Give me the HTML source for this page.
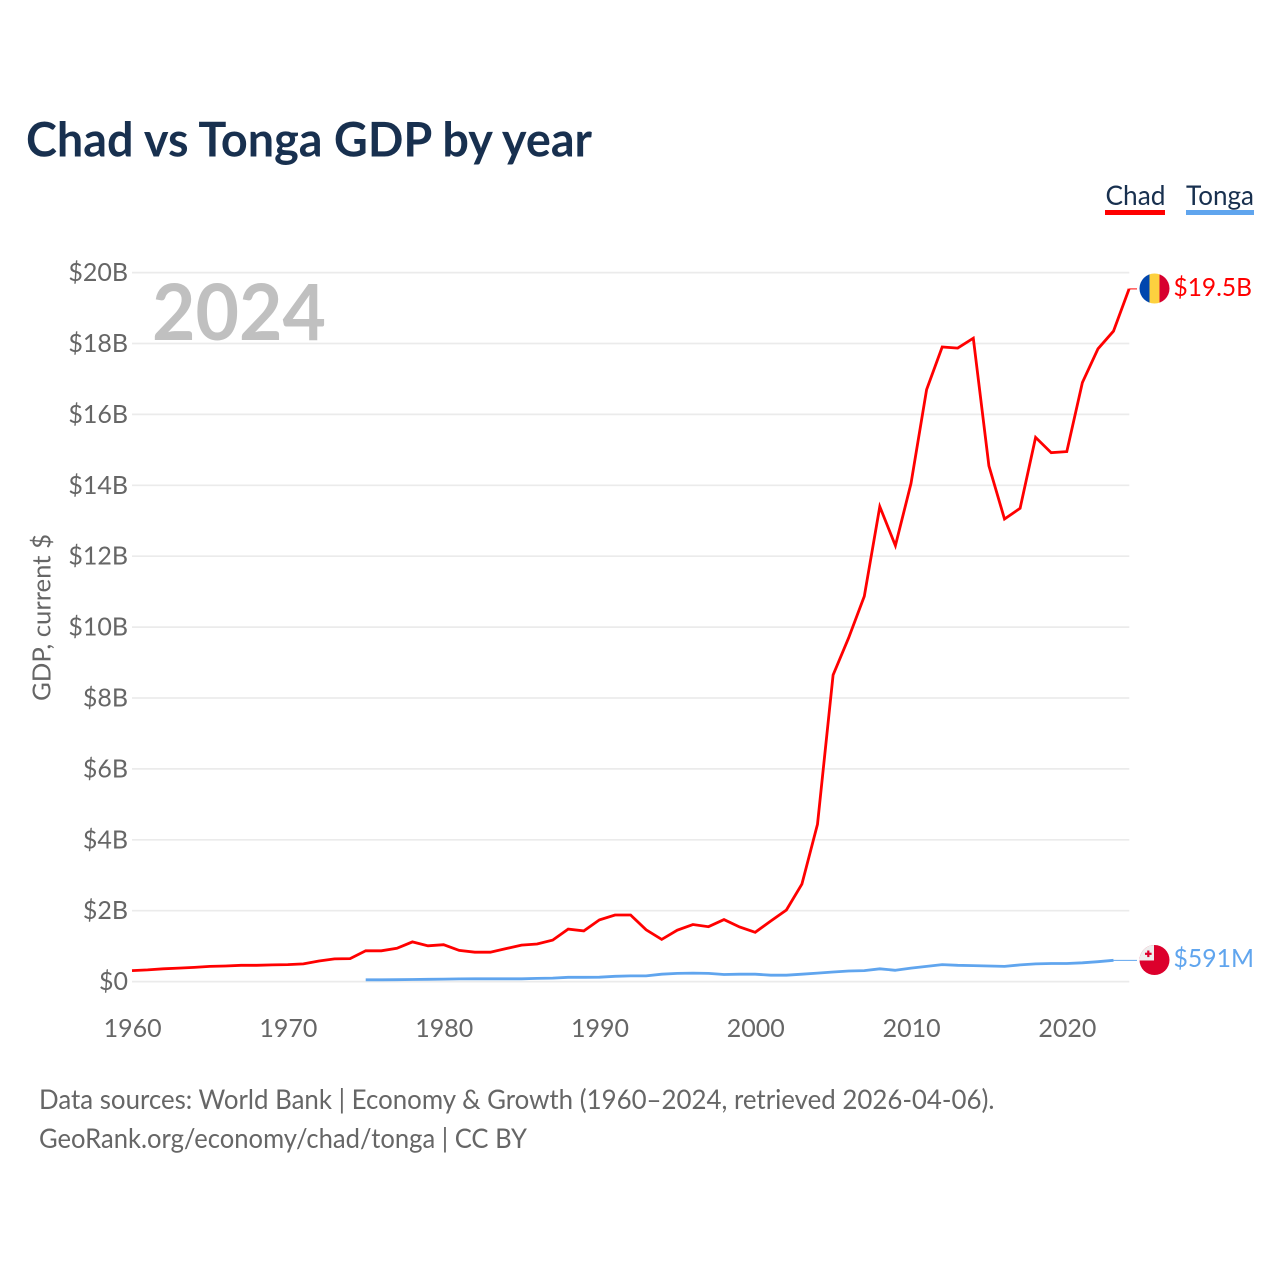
<!DOCTYPE html>
<html lang="en">
<head>
<meta charset="utf-8">
<title>Chad vs Tonga GDP by year</title>
<style>
  html, body { margin: 0; padding: 0; background: #fff; }
  body { width: 1280px; height: 1280px; overflow: hidden; }
  svg { display: block; }
  text { font-family: "Lato", "Carlito", "Liberation Sans", sans-serif; }
</style>
</head>
<body>
<svg id="chart" xmlns="http://www.w3.org/2000/svg" width="1280" height="1280" viewBox="0 0 1280 1280">
  <rect x="0" y="0" width="1280" height="1280" fill="#ffffff"/>
  <text x="26" y="156.5" font-size="48" font-weight="700" fill="#18304f" textLength="566" lengthAdjust="spacingAndGlyphs">Chad vs Tonga GDP by year</text>

  <g id="grid"></g>
  <text x="152" y="340" font-size="78" font-weight="700" fill="#c0c0c0" textLength="174" lengthAdjust="spacingAndGlyphs">2024</text>
  <g id="y-ticks"></g>
  <g id="x-ticks"></g>
  <text transform="translate(50.5,701) rotate(-90)" font-size="25" fill="#666666" textLength="167" lengthAdjust="spacingAndGlyphs">GDP, current $</text>

  <g id="series"></g>

  <g>
    <text x="1105.5" y="205" font-size="27" fill="#18304f" textLength="60" lengthAdjust="spacingAndGlyphs">Chad</text>
    <rect x="1105" y="210" width="60" height="5" fill="#ff0000"/>
  </g>
  <g>
    <text x="1186" y="205" font-size="27" fill="#18304f" textLength="68" lengthAdjust="spacingAndGlyphs">Tonga</text>
    <rect x="1186" y="210" width="68" height="5" fill="#60a5ee"/>
  </g>

  <defs>
    <clipPath id="clip-chad"><circle cx="1154.5" cy="288.5" r="15"/></clipPath>
    <clipPath id="clip-tonga"><circle cx="1154.5" cy="960" r="15"/></clipPath>
  </defs>
  <g clip-path="url(#clip-chad)">
    <rect x="1139" y="273" width="10.5" height="31" fill="#0046ae"/>
    <rect x="1149.5" y="273" width="10" height="31" fill="#fdd13f"/>
    <rect x="1159.5" y="273" width="11" height="31" fill="#d7002f"/>
  </g>
  <g clip-path="url(#clip-tonga)">
    <rect x="1139" y="945" width="31" height="31" fill="#dc002c"/>
    <rect x="1139" y="945" width="15" height="15.5" fill="#eeeeee"/>
    <rect x="1145" y="952.7" width="6.6" height="2.2" fill="#dc002c"/>
    <rect x="1147.2" y="950.5" width="2.2" height="6.6" fill="#dc002c"/>
  </g>
  <text x="1173.5" y="296" font-size="25" fill="#ff0000" textLength="78.5" lengthAdjust="spacingAndGlyphs">$19.5B</text>
  <text x="1173.5" y="967" font-size="25" fill="#60a5ee" textLength="80.5" lengthAdjust="spacingAndGlyphs">$591M</text>

  <text x="39" y="1109" font-size="27" fill="#666666" textLength="955.5" lengthAdjust="spacingAndGlyphs">Data sources: World Bank | Economy &amp; Growth (1960–2024, retrieved 2026-04-06).</text>
  <text x="39" y="1148" font-size="27" fill="#666666" textLength="488" lengthAdjust="spacingAndGlyphs">GeoRank.org/economy/chad/tonga | CC BY</text>
</svg>
<script>
const chadStartYear = 1960;
const tongaStartYear = 1975;
const chadValues = [0.31,0.33,0.36,0.38,0.40,0.43,0.44,0.46,0.46,0.47,0.48,0.50,0.58,0.64,0.65,0.87,0.87,0.94,1.12,1.01,1.04,0.88,0.83,0.83,0.93,1.03,1.06,1.17,1.48,1.43,1.74,1.88,1.88,1.46,1.19,1.45,1.61,1.55,1.75,1.54,1.39,1.71,2.02,2.75,4.44,8.65,9.70,10.87,13.40,12.30,14.05,16.70,17.90,17.87,18.15,14.55,13.05,13.35,15.35,14.92,14.95,16.90,17.85,18.35,19.54];
const tongaValues = [0.05,0.05,0.055,0.06,0.065,0.07,0.075,0.08,0.08,0.08,0.08,0.09,0.10,0.12,0.12,0.125,0.15,0.16,0.16,0.21,0.23,0.24,0.23,0.20,0.21,0.21,0.18,0.18,0.21,0.24,0.27,0.30,0.31,0.36,0.32,0.38,0.43,0.48,0.46,0.45,0.44,0.43,0.47,0.50,0.51,0.51,0.53,0.56,0.60];
const yTickValues = [0,2,4,6,8,10,12,14,16,18,20];
const yTickLabels = ["$0","$2B","$4B","$6B","$8B","$10B","$12B","$14B","$16B","$18B","$20B"];
const xTickYears = [1960,1970,1980,1990,2000,2010,2020];

const NS = "http://www.w3.org/2000/svg";
function xScale(year) { return 132 + (year - 1960) * 15.58; }
function yScale(v) { return 981.6 - v * 35.45; }
function make(tag, attrs, parent) {
  const el = document.createElementNS(NS, tag);
  for (const k in attrs) el.setAttribute(k, attrs[k]);
  parent.appendChild(el);
  return el;
}
const gridG = document.getElementById("grid");
const yG = document.getElementById("y-ticks");
const xG = document.getElementById("x-ticks");
const seriesG = document.getElementById("series");

yTickValues.forEach(function (v, i) {
  const line = make("line", {x1: 132, x2: 1129.3, y1: yScale(v), y2: yScale(v), stroke: "#ebebeb", "stroke-width": 1.7}, gridG);
  
  
  const t = make("text", {x: 128, y: yScale(v) + 8.5, "text-anchor": "end", "font-size": 25, fill: "#666666"}, yG);
  
  
  t.textContent = yTickLabels[i];
});

xTickYears.forEach(function (yr) {
  const t = make("text", {x: xScale(yr) + 0.6, y: 1036.8, "text-anchor": "middle", "font-size": 25, fill: "#666666"}, xG);
  
  
  t.textContent = yr;
});

function points(values, startYear) {
  return values.map(function (v, i) {
    return xScale(startYear + i).toFixed(1) + "," + yScale(v).toFixed(1);
  }).join(" ");
}

const tongaLine = make("polyline", {points: points(tongaValues, tongaStartYear), fill: "none", stroke: "#60a5ee", "stroke-width": 2.8, "stroke-linejoin": "round"}, seriesG);



const chadLine = make("polyline", {points: points(chadValues, chadStartYear), fill: "none", stroke: "#ff0000", "stroke-width": 2.8, "stroke-linejoin": "miter"}, seriesG);



const chadEndY = yScale(chadValues[chadValues.length - 1]);
const chadConn = make("line", {x1: xScale(2024), x2: 1137, y1: chadEndY, y2: chadEndY, stroke: "#ff0000", "stroke-width": 1}, seriesG);



const tongaEndY = yScale(tongaValues[tongaValues.length - 1]);
const tongaConn = make("line", {x1: xScale(tongaStartYear + tongaValues.length - 1), x2: 1137, y1: tongaEndY, y2: tongaEndY, stroke: "#60a5ee", "stroke-width": 1}, seriesG);


</script>
</body>
</html>
